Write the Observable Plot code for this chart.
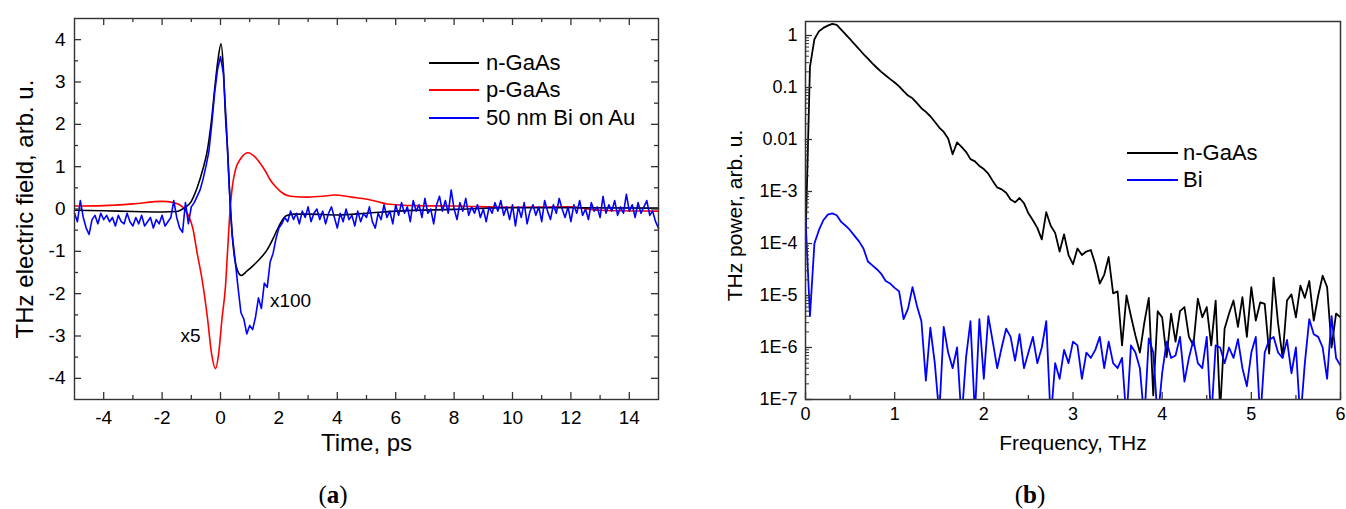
<!DOCTYPE html>
<html><head><meta charset="utf-8">
<script src="https://cdn.jsdelivr.net/npm/d3@7"></script>
<script src="https://cdn.jsdelivr.net/npm/@observablehq/plot@0.6"></script>
<style>
body{margin:0;background:#fff;font-family:"Liberation Sans",Arial,sans-serif;}
#wrap{position:relative;width:1346px;height:509px;overflow:hidden;background:#fff;}
.panel{position:absolute;top:0;}
.leg{position:absolute;font-size:22px;color:#000;height:22px;line-height:22px;display:flex;align-items:center;white-space:nowrap;}
.leg .sw{display:inline-block;height:0;border-top:2px solid;}
.cap{position:absolute;font-family:"Liberation Serif","DejaVu Serif",serif;font-size:25px;color:#000;transform:translate(-50%,-50%);white-space:nowrap;}
</style></head><body><div id="wrap"></div>
<script>
// ---------- Panel (a) data: THz transients ----------
const nGaAsTime  = [-5,-4,-3,-2,-1.5,-1.25,-1.0,-0.8,-0.6,-0.46,-0.3,-0.19,-0.1,0.02,0.1,0.17,0.25,0.34,0.46,0.58,0.71,0.9,1.1,1.26,1.45,1.6,1.8,1.94,2.1,2.25,2.5,3,4,5,6,8,10,12,15];
const nGaAsField = [-0.03,-0.04,-0.06,-0.07,-0.06,0.02,0.18,0.5,0.95,1.35,2.15,2.9,3.45,3.9,3.3,2.2,1.3,0.0,-1.04,-1.45,-1.57,-1.47,-1.35,-1.24,-1.1,-0.96,-0.7,-0.49,-0.28,-0.16,-0.12,-0.12,-0.14,-0.1,-0.05,-0.01,0.03,0.03,0.02];

const pGaAsTime  = [-5,-4,-3,-2,-1.6,-1.3,-1.1,-0.95,-0.8,-0.63,-0.44,-0.31,-0.17,-0.06,0.05,0.17,0.25,0.33,0.4,0.51,0.7,0.95,1.15,1.37,1.55,1.71,1.9,2.06,2.4,3,3.5,3.9,4.5,5.03,5.4,5.7,6.7,8,10,12,13,15];
const pGaAsField = [0.07,0.08,0.12,0.18,0.15,0.05,-0.15,-0.45,-1.04,-1.67,-2.61,-3.4,-3.77,-3.4,-2.6,-1.83,-0.9,0.0,0.5,0.92,1.2,1.33,1.25,1.07,0.88,0.68,0.52,0.41,0.3,0.28,0.3,0.33,0.28,0.23,0.17,0.12,0.08,0.07,0.04,0.05,-0.03,-0.05];

// Bi on Au, sampled every 0.1 ps from -5 ps
const biTimeStart = -5, biTimeStep = 0.1;
const biField = [
-0.1,-0.3,0.2,-0.2,-0.45,-0.6,-0.25,-0.15,-0.35,-0.1,
-0.25,-0.15,-0.3,-0.2,-0.4,-0.15,-0.3,-0.35,-0.1,-0.3,
-0.4,-0.2,-0.35,-0.15,-0.4,-0.3,-0.2,-0.45,-0.25,-0.35,
-0.15,-0.4,-0.3,-0.2,0.2,-0.2,-0.45,-0.55,0.15,-0.35,
0.05,0.15,0.3,0.45,0.7,1.0,1.35,2.0,2.75,3.3,
3.6,3.2,2.0,0.5,-0.6,-1.2,-1.85,-2.45,-2.6,-2.95,
-2.75,-2.85,-2.55,-2.1,-2.35,-1.75,-1.85,-1.25,-1.05,-0.7,
-0.45,-0.35,-0.2,
-0.3,-0.05,-0.25,-0.1,-0.35,-0.05,-0.2,0.05,-0.3,-0.1,
0.0,-0.25,-0.05,-0.35,-0.1,0.05,-0.2,-0.45,-0.1,-0.3,
0.0,-0.25,-0.15,-0.4,-0.05,-0.3,-0.1,-0.2,0.05,-0.3,
-0.45,-0.1,-0.25,0.1,-0.2,-0.05,-0.35,0.1,-0.15,0.15,
-0.1,0.05,-0.3,0.2,-0.05,0.1,-0.2,0.25,-0.1,0.0,
-0.35,0.1,0.3,-0.05,0.2,-0.1,0.45,0.0,-0.25,0.15,
-0.05,0.25,-0.15,0.05,-0.1,0.1,-0.2,0.0,-0.3,0.05,
-0.1,0.15,-0.05,0.2,-0.15,0.05,-0.25,0.1,-0.4,0.05,
-0.2,0.15,-0.35,-0.05,0.1,-0.15,0.05,-0.3,0.2,-0.05,
-0.25,0.1,-0.1,0.25,0.0,-0.2,0.05,-0.3,0.1,-0.1,
0.2,-0.15,0.0,-0.25,0.15,-0.05,0.05,-0.2,0.3,-0.1,
0.1,-0.05,0.2,-0.15,0.05,-0.1,0.35,-0.05,0.1,-0.2,
0.15,-0.1,0.05,0.2,-0.15,-0.05,-0.3,-0.45];

const annotLabels = ["x5","x100"];
const annotTime   = [-1.03, 2.4];
const annotField  = [-3.0, -2.16];

const xTicksA = [-4,-2,0,2,4,6,8,10,12,14];
const xMinorA = [-3,-1,1,3,5,7,9,11,13];
const yTicksA = [-4,-3,-2,-1,0,1,2,3,4];
const yMinorA = [-3.5,-2.5,-1.5,-0.5,0.5,1.5,2.5,3.5];

const legendA = ["n-GaAs","p-GaAs","50 nm Bi on Au"];
const colorsA = ["#000000","#ff0000","#0000ff"];

// ---------- Panel (b) data: power spectra, sampled every 0.05 THz from 0 ----------
const freqStep = 0.05;
const nGaAsPower = [
1e-4,0.25,0.85,1.2,1.4,1.55,1.68,1.6,1.3,1.05,
0.85,0.68,0.55,0.44,0.36,0.29,0.24,0.2,0.17,0.145,
0.125,0.105,0.085,0.07,0.062,0.05,0.04,0.034,0.028,0.022,
0.017,0.014,0.0105,0.0052,0.0088,0.0072,0.0058,0.0042,0.0038,0.0031,
0.0027,0.0022,0.0016,0.0012,0.0011,0.00095,0.0007,0.00062,0.00075,0.0006,
0.00038,0.00028,0.0002,0.00012,0.0004,0.00022,0.00016,0.00007,0.00015,0.00006,
4e-5,8e-5,6e-5,7e-5,7.5e-5,4e-5,1.7e-5,2.5e-5,5.5e-5,1.1e-5,
1.2e-5,1.1e-6,1e-5,4e-6,1.7e-6,8e-7,3e-6,9e-6,1.2e-7,5e-6,
3.8e-6,6.5e-7,4.5e-6,1.3e-6,5e-6,6e-6,1.6e-6,1.1e-6,8.7e-6,3.8e-6,
6e-6,1.1e-6,8e-6,6e-8,2.3e-6,4.5e-6,8e-6,2.5e-6,9.3e-6,1.6e-6,
1.45e-5,3.3e-6,7.4e-6,6.9e-6,7.6e-7,2.2e-5,2.9e-6,6.5e-7,8e-6,1.05e-5,
3.8e-6,1.55e-5,9e-6,1.9e-5,3.3e-6,1e-5,2.4e-5,1.45e-5,1e-6,4.5e-6,
3.8e-6];
const biPower = [
3.2e-4,4e-6,1e-4,1.8e-4,2.8e-4,3.6e-4,3.8e-4,3.5e-4,2.6e-4,2.2e-4,
1.8e-4,1.4e-4,1.1e-4,8e-5,4.5e-5,3.8e-5,3.2e-5,2.6e-5,1.9e-5,1.7e-5,
1.4e-5,1.2e-5,3.5e-6,5.6e-6,1.45e-5,6.3e-6,3.2e-6,2.3e-7,2.4e-6,5e-7,
5e-8,2.5e-6,8e-7,4e-7,1e-6,4e-8,6.3e-7,3.2e-6,5e-8,3.5e-6,
2.5e-7,4e-6,1.3e-6,4e-7,1e-6,2.3e-6,1.6e-6,5.6e-7,1.8e-6,4e-7,
8e-7,1.6e-6,5e-7,1e-6,3.2e-6,4e-8,5e-7,2.5e-7,9e-7,5e-7,
1.3e-6,1.1e-6,2.5e-7,8e-7,6.3e-7,9e-7,1.6e-6,4e-7,1.3e-6,5e-7,
4e-7,6.3e-7,4e-8,1.1e-6,8e-7,4e-7,4e-8,1.5e-6,8e-7,4e-8,
3.2e-7,1.3e-6,6.3e-7,7e-7,1.6e-6,2.2e-7,6.3e-7,1.4e-6,5e-7,4e-7,
1.6e-6,4e-8,1.1e-6,1e-6,5e-7,1e-6,6.3e-7,1.45e-6,4e-7,1.8e-7,
8e-7,1.6e-6,4e-8,8e-7,1.4e-6,1.6e-6,8e-7,6.3e-7,1.4e-6,3.2e-7,
1e-6,4e-8,5e-7,3.5e-6,1.8e-6,1.6e-6,1e-6,2.5e-7,4e-6,6.3e-7,
4.5e-7];

const xTicksB = [0,1,2,3,4,5,6];
const xMinorB = [0.5,1.5,2.5,3.5,4.5,5.5];
const yTicksB = [1e-7,1e-6,1e-5,1e-4,1e-3,0.01,0.1,1];
const yTickLabelsB = ["1E-7","1E-6","1E-5","1E-4","1E-3","0.01","0.1","1"];

const legendB = ["n-GaAs","Bi"];
const colorsB = ["#000000","#0000ff"];

// ---------- build tables ----------
const rowsN = nGaAsTime.map((t,i)=>({t, v:nGaAsField[i]}));
const rowsP = pGaAsTime.map((t,i)=>({t, v:pGaAsField[i]}));
const rowsBi = biField.map((v,i)=>({t:+(biTimeStart + i*biTimeStep).toFixed(2), v}));
const rowsAnn = annotLabels.map((s,i)=>({s, t:annotTime[i], v:annotField[i]}));
const specN = nGaAsPower.map((p,i)=>({f:+(i*freqStep).toFixed(3), p}));
const specB = biPower.map((p,i)=>({f:+(i*freqStep).toFixed(3), p}));
const yTickRowsB = yTicksB.map((v,i)=>({v, label:yTickLabelsB[i]}));
const yMinorB = [];
for (let k=-7;k<=0;k++) for (let m=2;m<=9;m++){ const v=m*Math.pow(10,k); if (v<1.86) yMinorB.push(v); }

const FONT = '"Liberation Sans", Arial, sans-serif';
const AX = "#333";
const wrap = document.getElementById("wrap");

// ---------- Panel (a) ----------
const WA=690, HA=470, mA={left:74,right:32,top:18,bottom:71};
const fwA = WA-mA.left-mA.right, fhA = HA-mA.top-mA.bottom;
const plotA = Plot.plot({
  width:WA, height:HA,
  marginLeft:mA.left, marginRight:mA.right, marginTop:mA.top, marginBottom:mA.bottom,
  style:{fontFamily:FONT, color:"#000", background:"transparent"},
  x:{domain:[-5,15]},
  y:{domain:[-4.5,4.5]},
  marks:[
    Plot.line(rowsP,{x:"t",y:"v",stroke:colorsA[1],strokeWidth:1.6,curve:"monotone-x"}),
    Plot.line(rowsN,{x:"t",y:"v",stroke:colorsA[0],strokeWidth:1.6,curve:"monotone-x"}),
    Plot.line(rowsBi,{x:"t",y:"v",stroke:colorsA[2],strokeWidth:1.6}),
    Plot.text(rowsAnn,{x:"t",y:"v",text:"s",fontSize:19,fill:"#000"}),
    Plot.tickX(xTicksA,{x:d=>d,insetTop:fhA-7,stroke:AX,strokeWidth:1.3}),
    Plot.tickX(xMinorA,{x:d=>d,insetTop:fhA-4,stroke:AX,strokeWidth:1.3}),
    Plot.tickX(xTicksA,{x:d=>d,insetBottom:fhA-7,stroke:AX,strokeWidth:1.3}),
    Plot.tickX(xMinorA,{x:d=>d,insetBottom:fhA-4,stroke:AX,strokeWidth:1.3}),
    Plot.tickY(yTicksA,{y:d=>d,insetRight:fwA-7,stroke:AX,strokeWidth:1.3}),
    Plot.tickY(yMinorA,{y:d=>d,insetRight:fwA-4,stroke:AX,strokeWidth:1.3}),
    Plot.tickY(yTicksA,{y:d=>d,insetLeft:fwA-7,stroke:AX,strokeWidth:1.3}),
    Plot.tickY(yMinorA,{y:d=>d,insetLeft:fwA-4,stroke:AX,strokeWidth:1.3}),
    Plot.axisX({ticks:xTicksA,tickSize:0,tickPadding:11,fontSize:19,label:null,tickFormat:d=>String(d)}),
    Plot.axisY({ticks:yTicksA,tickSize:0,tickPadding:9,fontSize:19,label:null,tickFormat:d=>String(d)}),
    Plot.frame({stroke:AX,strokeWidth:1.4}),
    Plot.text(["Time, ps"],{frameAnchor:"bottom",dy:44,fontSize:24,textAnchor:"middle",lineAnchor:"middle",fill:"#000"}),
    Plot.text(["THz electric field, arb. u."],{frameAnchor:"left",dx:-49,rotate:-90,fontSize:24,textAnchor:"middle",lineAnchor:"middle",fill:"#000"})
  ]
});
plotA.classList.add("panel"); plotA.style.left="0px";
wrap.appendChild(plotA);

// ---------- Panel (b) ----------
const WB=656, HB=470, mB={left:115,right:6,top:21,bottom:71};
const fwB = WB-mB.left-mB.right, fhB = HB-mB.top-mB.bottom;
const plotB = Plot.plot({
  width:WB, height:HB,
  marginLeft:mB.left, marginRight:mB.right, marginTop:mB.top, marginBottom:mB.bottom,
  style:{fontFamily:FONT, color:"#000", background:"transparent"},
  x:{domain:[0,6]},
  y:{type:"log",domain:[1e-7,1.86],axis:null},
  marks:[
    Plot.line(specN,{x:"f",y:"p",stroke:colorsB[0],strokeWidth:1.8,clip:true}),
    Plot.line(specB,{x:"f",y:"p",stroke:colorsB[1],strokeWidth:1.8,clip:true}),
    Plot.tickX(xTicksB,{x:d=>d,insetTop:fhB-7,stroke:AX,strokeWidth:1.3}),
    Plot.tickX(xMinorB,{x:d=>d,insetTop:fhB-4,stroke:AX,strokeWidth:1.3}),
    Plot.tickY(yTicksB,{y:d=>d,insetRight:fwB-7,stroke:AX,strokeWidth:1.3}),
    Plot.tickY(yMinorB,{y:d=>d,insetRight:fwB-4,stroke:AX,strokeWidth:1}),
    Plot.axisX({ticks:xTicksB,tickSize:0,tickPadding:8,fontSize:18,label:null,tickFormat:d=>String(d)}),
    Plot.text(yTickRowsB,{y:"v",text:"label",frameAnchor:"left",dx:-8,textAnchor:"end",lineAnchor:"middle",fontSize:18,fill:"#000"}),
    Plot.frame({stroke:AX,strokeWidth:1.5}),
    Plot.text(["Frequency, THz"],{frameAnchor:"bottom",dy:44,fontSize:21,textAnchor:"middle",lineAnchor:"middle",fill:"#000"}),
    Plot.text(["THz power, arb. u."],{frameAnchor:"left",dx:-70,dy:5,rotate:-90,fontSize:21,textAnchor:"middle",lineAnchor:"middle",fill:"#000"})
  ]
});
plotB.classList.add("panel"); plotB.style.left="690px";
wrap.appendChild(plotB);

// ---------- legends ----------
function legend(labels, colors, left, tops, swW, gap){
  labels.forEach((lab,i)=>{
    const d=document.createElement("div"); d.className="leg";
    d.style.left=left+"px"; d.style.top=(tops[i]-11)+"px";
    const s=document.createElement("span"); s.className="sw";
    s.style.width=swW+"px"; s.style.borderTopColor=colors[i]; s.style.marginRight=gap+"px";
    d.appendChild(s); d.appendChild(document.createTextNode(lab));
    wrap.appendChild(d);
  });
}
legend(legendA, colorsA, 429, [63,90,118], 50, 7);
legend(legendB, colorsB, 1127, [153,180], 51, 5);

// ---------- captions ----------
[["a",333],["b",1030]].forEach(([l,x])=>{
  const c=document.createElement("div"); c.className="cap";
  c.style.left=x+"px"; c.style.top="495px";
  c.innerHTML="(<b>"+l+"</b>)";
  wrap.appendChild(c);
});
</script></body></html>
